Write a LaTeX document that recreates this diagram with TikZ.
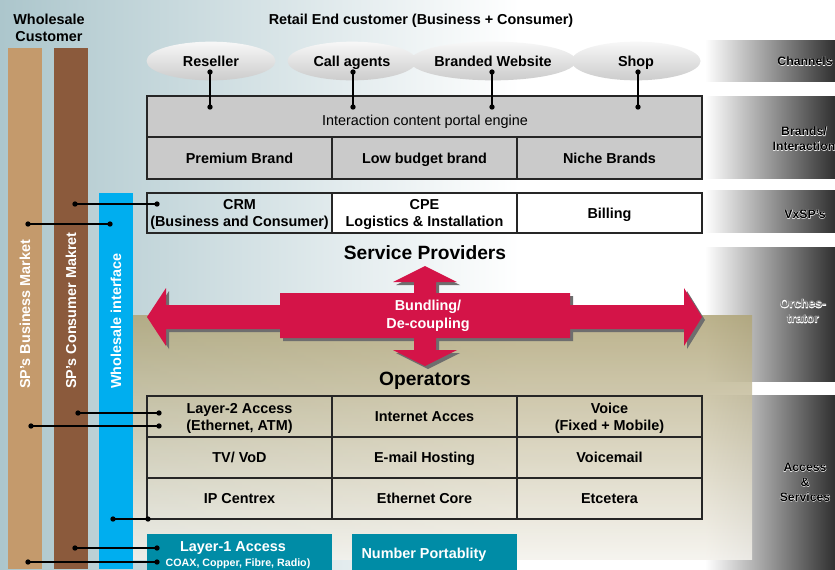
\documentclass[tikz,border=0pt]{standalone}
\usepackage{fontspec}
\setmainfont{Liberation Sans}
\usetikzlibrary{shapes.geometric,calc}
\definecolor{bgblue}{RGB}{172,198,204}
\definecolor{busi}{RGB}{196,154,108}
\definecolor{cons}{RGB}{139,90,60}
\definecolor{wsblue}{RGB}{0,174,239}
\definecolor{tanTop}{RGB}{176,165,120}
\definecolor{tanBot}{RGB}{244,242,236}
\definecolor{cellgray}{RGB}{202,202,202}
\definecolor{arrowred}{RGB}{212,20,72}
\definecolor{tealbox}{RGB}{0,140,166}
\definecolor{bardark}{RGB}{48,48,48}
\definecolor{shadowgray}{RGB}{110,110,110}
\newcommand\halolab[4]{%
  \node[sidelab,text=white,font=\bfseries\fontsize{9.2}{11.2}\selectfont\addfontfeature{FakeBold=5}] at (#2) {#4};
  \node[sidelab,text=#3] (#1) at (#2) {#4};}
\newcommand\bundlepath{(147,317) -- (166,288) -- (166,305) -- (280,305) -- (280,293) -- (414,293) -- (414,282) -- (393,282) -- (425,266) -- (457,282) -- (436,282) -- (436,293) -- (570,293) -- (570,305) -- (684,305) -- (684,288) -- (702,317) -- (684,346) -- (684,329) -- (570,329) -- (570,338) -- (436,338) -- (436,350) -- (457,350) -- (425,366) -- (393,350) -- (414,350) -- (414,338) -- (280,338) -- (280,329) -- (166,329) -- (166,346) -- cycle}
\begin{document}
\begin{tikzpicture}[x=0.75pt,y=-0.75pt,
  lab/.style={font=\bfseries\fontsize{10.8}{12.8}\selectfont, inner sep=0pt, align=center, text depth=0pt},
  cell/.style={draw=black!85, line width=1.1pt, minimum width=138.75pt, inner sep=0pt, align=center, text depth=0pt, font=\bfseries\fontsize{10.8}{12.8}\selectfont},
  one/.style={text height=7.8pt, text depth=0pt},
  sidelab/.style={font=\bfseries\fontsize{9.2}{11.2}\selectfont, inner sep=0pt, align=center, text depth=0pt},
  chan/.style={ellipse, one, minimum width=96.75pt, minimum height=29pt, inner sep=0pt, top color=gray!6, bottom color=gray!40, font=\bfseries\fontsize{10.8}{12.8}\selectfont},
  conn/.style={line width=0.9pt, black},
  bigl/.style={font=\bfseries\fontsize{14.4}{17}\selectfont, inner sep=0pt, text depth=0pt},
  sidebar/.style={left color=white, right color=bardark},
  tbox/.style={fill=tealbox, inner sep=0pt, minimum height=27pt}
]
\useasboundingbox (0,0) rectangle (835,569);
\clip (0,0) rectangle (835,569);
% background
\fill[white] (0,0) rectangle (835,569);
\shade[left color=bgblue, right color=white] (0,0) rectangle (520,569);
% right-hand layer bars
\shade[sidebar] (705,40) rectangle (835,81);
\shade[sidebar] (705,96) rectangle (835,178);
\shade[sidebar] (705,190) rectangle (835,232);
\shade[sidebar] (705,247) rectangle (835,381);
\shade[sidebar] (705,395) rectangle (835,569);
% operators area
\shade[top color=tanTop, bottom color=tanBot, opacity=0.85] (133,315) rectangle (752,559);
% vertical bars
\fill[busi] (8,48) rectangle (42,569);
\fill[cons] (54,48) rectangle (88,569);
\fill[wsblue] (99,193) rectangle (133,569);
\node[lab, text=white, rotate=90, anchor=west] (busl) at (25,389) {SP's Business Market};
\node[lab, text=white, rotate=90, anchor=west] (consl) at (71,389) {SP's Consumer Makret};
\node[lab, text=white, rotate=90, anchor=west] (wsl) at (116,389) {Wholesale interface};
% titles
\node[lab] (wc) at (49,27.5) {Wholesale\\Customer};
\node[lab, one] (rec) at (421,19) {Retail End customer (Business + Consumer)};
% channels
\node[chan] (res) at (211,61) {Reseller};
\node[chan] (cag) at (352,61) {Call agents};
\node[chan] (bws) at (493,61) {Branded Website};
\node[chan] (shop) at (636,61) {Shop};
% brands table
\node[cell, fill=cellgray, minimum width=416.25pt, minimum height=30.75pt] (eng) at (424.5,116.5) {};
\node[lab, one, font=\fontsize{10.8}{12.8}\selectfont] (engt) at (425,120) {Interaction content portal engine};
\node[cell, one, fill=cellgray, minimum height=31.5pt] (prem) at (239.5,158) {Premium Brand};
\node[cell, one, fill=cellgray, minimum height=31.5pt] (lowb) at (424.5,158) {Low budget brand};
\node[cell, one, fill=cellgray, minimum height=31.5pt] (niche) at (609.5,158) {Niche Brands};
% VxSP table
\node[cell, minimum height=30pt] (crm) at (239.5,213) {CRM\\(Business and Consumer)};
\node[cell, fill=white, minimum height=30pt] (cpe) at (424.5,213) {CPE\\Logistics \& Installation};
\node[cell, one, fill=white, minimum height=30pt] (bill) at (609.5,213) {Billing};
% service providers / operators
\node[bigl] (sp) at (425,253) {Service Providers};
\node[bigl] (op) at (425,379) {Operators};
% bundling arrow
\fill[shadowgray, shift={(3,3)}] \bundlepath;
\fill[arrowred] \bundlepath;
\node[lab, text=white, font=\bfseries\fontsize{10.8}{13.5}\selectfont] (bund) at (428,314) {Bundling/\\De-coupling};
% access & services table
\node[cell, minimum height=30.75pt] (l2) at (239.5,416.5) {Layer-2 Access\\(Ethernet, ATM)};
\node[cell, one, minimum height=30.75pt] (ia) at (424.5,416.5) {Internet Acces};
\node[cell, minimum height=30.75pt] (voice) at (609.5,416.5) {Voice\\(Fixed + Mobile)};
\node[cell, one, minimum height=30.75pt] (tv) at (239.5,457.5) {TV/ VoD};
\node[cell, one, minimum height=30.75pt] (mail) at (424.5,457.5) {E-mail Hosting};
\node[cell, one, minimum height=30.75pt] (vm) at (609.5,457.5) {Voicemail};
\node[cell, one, minimum height=30.75pt] (ipc) at (239.5,498.5) {IP Centrex};
\node[cell, one, minimum height=30.75pt] (ethc) at (424.5,498.5) {Ethernet Core};
\node[cell, one, minimum height=30.75pt] (etc) at (609.5,498.5) {Etcetera};
% bottom boxes
\node[tbox, minimum width=138.75pt] (l1) at (239.5,552) {};
\node[lab, one, text=white] (l1t) at (233,546) {Layer-1 Access};
\node[lab, text=white, text height=5.8pt, font=\bfseries\fontsize{8}{9}\selectfont] (l1s) at (238,563) {COAX, Copper, Fibre, Radio)};
\node[tbox, minimum width=123.75pt] (np) at (434.5,552) {};
\node[lab, one, text=white] (npt) at (424,553) {Number Portablity};
% connectors
\coordinate (a1) at (210,72);  \coordinate (b1) at (210,107);
\coordinate (a2) at (353,72);  \coordinate (b2) at (353,107);
\coordinate (a3) at (492,72);  \coordinate (b3) at (492,107);
\coordinate (a4) at (638,72);  \coordinate (b4) at (638,107);
\coordinate (k1) at (75,204);  \coordinate (m1) at (157,204);
\coordinate (k2) at (28,224);  \coordinate (m2) at (110,224);
\coordinate (k3) at (78,413);  \coordinate (m3) at (159,413);
\coordinate (k4) at (31,426);  \coordinate (m4) at (159,426);
\coordinate (k5) at (113,519); \coordinate (m5) at (148,519);
\coordinate (k6) at (75,548);  \coordinate (m6) at (157,548);
\coordinate (k7) at (28,562);  \coordinate (m7) at (157,562);
\foreach \p/\q in {a1/b1,a2/b2,a3/b3,a4/b4,k1/m1,k2/m2,k3/m3,k4/m4,k5/m5,k6/m6,k7/m7}{
  \draw[conn] (\p) -- (\q);
  \fill (\p) circle (2pt);
  \fill (\q) circle (2pt);
}
% layer labels
\halolab{lch}{805,61}{black}{Channels}
\halolab{lbr}{804,138.5}{black}{Brands/\\Interaction}
\halolab{lvx}{805,214}{black}{VxSP's}
\halolab{lor}{803,311}{gray}{Orches-\\trator}
\halolab{lac}{805,482}{black}{Access\\\&\\Services}
\end{tikzpicture}
\end{document}
